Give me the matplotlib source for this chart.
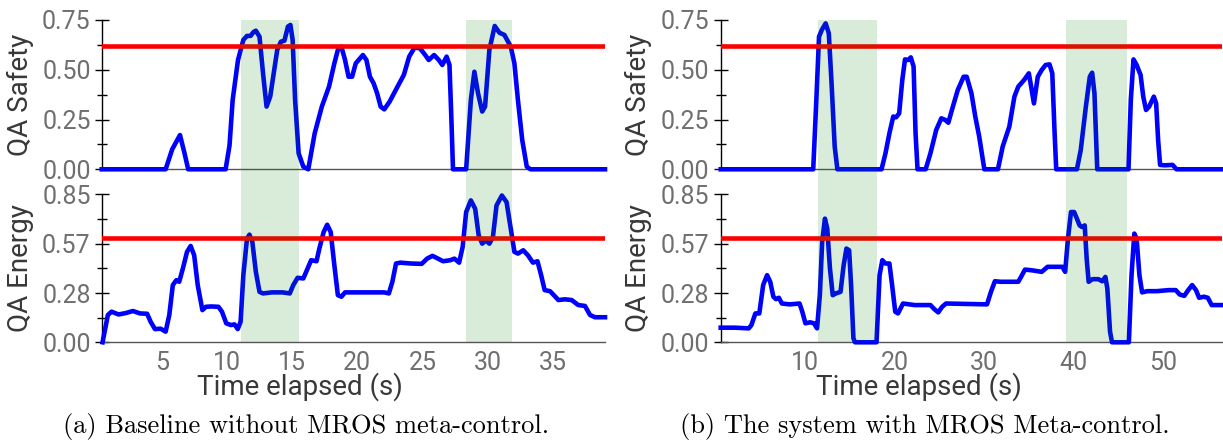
import matplotlib
matplotlib.use("Agg")
import matplotlib.pyplot as plt
from matplotlib.ticker import FixedLocator, FormatStrFormatter

plt.rcParams['font.family'] = ['Roboto', 'DejaVu Sans']

# (time s, value)
safety_a = [(0.4, 0), (5.3, 0), (5.8, 0.1), (6.4, 0.172), (6.75, 0.08), (7.03, 0), (9.9, 0), (10.2, 0.12),
            (10.44, 0.348), (10.85, 0.549), (11.26, 0.65), (11.54, 0.67), (11.81, 0.67), (12.05, 0.69),
            (12.22, 0.696), (12.5, 0.666), (12.77, 0.482), (13.04, 0.315), (13.32, 0.365), (13.59, 0.482),
            (13.86, 0.6), (14.14, 0.641), (14.41, 0.646), (14.68, 0.717), (14.87, 0.725), (15.04, 0.65),
            (15.23, 0.348), (15.5, 0.08), (15.86, 0.013), (16.24, 0), (16.73, 0.18), (17.28, 0.315),
            (17.83, 0.415), (18.24, 0.532), (18.51, 0.6), (18.78, 0.616), (19.06, 0.549), (19.33, 0.465),
            (19.6, 0.465), (19.88, 0.532), (20.43, 0.574), (20.7, 0.549), (20.97, 0.465), (21.25, 0.432),
            (21.52, 0.382), (21.79, 0.315), (22.07, 0.301), (22.48, 0.34), (23.02, 0.407), (23.57, 0.474),
            (23.98, 0.566), (24.39, 0.611), (24.8, 0.608), (25.21, 0.574), (25.48, 0.549), (25.89, 0.574),
            (26.25, 0.549), (26.52, 0.524), (26.85, 0.566), (27.07, 0.524), (27.21, 0.265), (27.34, 0),
            (28.35, 0), (28.71, 0.348), (28.98, 0.49), (29.26, 0.382), (29.58, 0.29), (29.8, 0.315),
            (30.13, 0.6), (30.54, 0.72), (30.9, 0.686), (31.28, 0.675), (31.77, 0.616), (32.05, 0.532),
            (32.32, 0.348), (32.65, 0.147), (33.0, 0.013), (33.28, 0), (39.0, 0)]

energy_a = [(0.46, 0), (0.87, 0.157), (1.15, 0.176), (1.69, 0.16), (2.24, 0.168), (2.79, 0.18), (3.33, 0.166),
            (3.88, 0.164), (4.15, 0.118), (4.48, 0.076), (4.92, 0.078), (5.3, 0.061), (5.58, 0.157),
            (5.85, 0.329), (6.12, 0.357), (6.34, 0.348), (6.62, 0.424), (6.94, 0.52), (7.22, 0.554),
            (7.49, 0.5), (7.76, 0.329), (8.12, 0.185), (8.39, 0.204), (8.8, 0.206), (9.35, 0.204),
            (9.62, 0.176), (9.95, 0.109), (10.31, 0.099), (10.58, 0.103), (10.83, 0.076), (11.05, 0.118),
            (11.26, 0.386), (11.54, 0.596), (11.73, 0.619), (11.95, 0.577), (12.22, 0.405), (12.5, 0.29),
            (12.77, 0.281), (13.45, 0.287), (14.27, 0.287), (14.82, 0.281), (15.09, 0.329), (15.42, 0.371),
            (15.86, 0.367), (16.13, 0.414), (16.46, 0.472), (16.87, 0.466), (17.09, 0.539), (17.42, 0.634),
            (17.69, 0.676), (17.96, 0.634), (18.24, 0.443), (18.51, 0.271), (18.78, 0.262), (19.06, 0.287),
            (22.07, 0.287), (22.42, 0.281), (22.69, 0.348), (22.97, 0.453), (23.3, 0.458), (24.12, 0.453),
            (24.94, 0.451), (25.35, 0.481), (25.76, 0.497), (26.09, 0.485), (26.58, 0.466), (27.13, 0.472),
            (27.45, 0.481), (27.81, 0.458), (28.08, 0.548), (28.35, 0.749), (28.71, 0.816), (29.04, 0.768),
            (29.31, 0.615), (29.58, 0.567), (29.86, 0.586), (30.13, 0.567), (30.4, 0.605), (30.68, 0.787),
            (31.09, 0.844), (31.45, 0.806), (31.77, 0.653), (32.05, 0.52), (32.32, 0.51), (32.73, 0.529),
            (33.09, 0.5), (33.47, 0.458), (33.82, 0.466), (34.1, 0.386), (34.37, 0.3), (34.78, 0.294),
            (35.19, 0.262), (35.42, 0.243), (35.93, 0.247), (36.44, 0.243), (36.95, 0.214), (37.46, 0.209),
            (37.85, 0.157), (38.23, 0.144), (39.0, 0.144)]

safety_b = [(0.6, 0), (10.93, 0), (11.28, 0.348), (11.58, 0.666), (11.89, 0.7), (12.32, 0.733), (12.67, 0.683),
            (12.98, 0.432), (13.33, 0.114), (13.63, 0), (18.56, 0), (19.0, 0.08), (19.44, 0.181),
            (19.87, 0.265), (20.18, 0.261), (20.53, 0.281), (20.88, 0.449), (21.18, 0.552), (21.53, 0.549),
            (21.83, 0.562), (22.14, 0.516), (22.36, 0.181), (22.58, 0), (23.49, 0), (24.02, 0.08),
            (24.67, 0.198), (25.24, 0.256), (25.67, 0.248), (26.02, 0.234), (26.42, 0.298), (27.07, 0.398),
            (27.73, 0.465), (28.07, 0.465), (28.6, 0.382), (29.03, 0.265), (29.47, 0.164), (30.04, 0),
            (31.56, 0), (32.09, 0.114), (32.83, 0.214), (33.4, 0.365), (33.83, 0.415), (34.49, 0.449),
            (35.01, 0.482), (35.27, 0.415), (35.58, 0.331), (36.01, 0.465), (36.45, 0.499), (36.89, 0.524),
            (37.32, 0.527), (37.63, 0.482), (37.89, 0.181), (38.07, 0), (40.38, 0), (40.81, 0.097),
            (41.38, 0.315), (41.82, 0.465), (42.08, 0.485), (42.34, 0.382), (42.65, 0), (46.14, 0),
            (46.4, 0.348), (46.7, 0.552), (47.05, 0.524), (47.49, 0.474), (47.79, 0.365), (48.1, 0.298),
            (48.45, 0.315), (48.97, 0.365), (49.23, 0.331), (49.45, 0.147), (49.67, 0.022), (50.2, 0.02),
            (51.07, 0.022), (51.5, 0), (56.6, 0)]

energy_b = [(0.6, 0.084), (2.2, 0.084), (3.73, 0.08), (4.03, 0.099), (4.47, 0.166), (4.91, 0.166), (5.34, 0.329),
            (5.78, 0.386), (6.13, 0.348), (6.48, 0.262), (6.78, 0.248), (7.09, 0.256), (7.44, 0.223),
            (8.31, 0.218), (9.4, 0.223), (9.71, 0.176), (10.06, 0.109), (10.58, 0.115), (11.02, 0.109),
            (11.36, 0.08), (11.67, 0.271), (11.93, 0.577), (12.24, 0.711), (12.5, 0.653), (12.8, 0.424),
            (13.11, 0.271), (13.46, 0.281), (13.98, 0.29), (14.33, 0.443), (14.64, 0.539), (14.94, 0.529),
            (15.16, 0.329), (15.42, 0.023), (15.6, 0), (18.0, 0), (18.34, 0.386), (18.65, 0.472), (19.0, 0.453),
            (19.44, 0.453), (19.74, 0.329), (20.09, 0.176), (20.4, 0.166), (20.96, 0.223), (22.27, 0.214),
            (24.02, 0.214), (24.45, 0.191), (24.89, 0.172), (25.33, 0.204), (25.76, 0.223), (30.34, 0.218),
            (30.78, 0.29), (31.22, 0.351), (31.87, 0.348), (33.83, 0.348), (34.14, 0.376), (34.58, 0.418),
            (35.36, 0.414), (36.45, 0.405), (37.1, 0.434), (38.76, 0.434), (39.07, 0.405), (39.38, 0.596),
            (39.72, 0.749), (40.07, 0.749), (40.38, 0.711), (40.68, 0.672), (40.95, 0.663), (41.25, 0.672),
            (41.47, 0.481), (41.69, 0.348), (42.12, 0.363), (42.78, 0.363), (43.21, 0.351), (43.56, 0.376),
            (43.78, 0.309), (44.08, 0.061), (44.3, 0), (46.18, 0), (46.48, 0.386), (46.79, 0.625),
            (47.05, 0.596), (47.36, 0.386), (47.66, 0.287), (48.23, 0.294), (49.32, 0.294), (50.63, 0.3),
            (51.42, 0.3), (51.85, 0.275), (52.37, 0.267), (52.81, 0.3), (53.25, 0.329), (53.68, 0.3),
            (54.03, 0.256), (54.56, 0.262), (55.0, 0.256), (55.43, 0.214), (56.6, 0.214)]

spans_a = [(11.1, 15.55), (28.3, 31.9)]
spans_b = [(11.5, 18.0), (39.2, 46.0)]
safety_limit = 0.62
energy_limit = 0.6
xlim_a = (0.4, 39.0)
xlim_b = (0.6, 56.6)
xticks_a = [5, 10, 15, 20, 25, 30, 35]
xticks_b = [10, 20, 30, 40, 50]
safety_ticks = [0.0, 0.25, 0.5, 0.75]
energy_ticks = [0.0, 0.85 / 3, 0.85 * 2 / 3, 0.85]
captions = ["(a) Baseline without MROS meta-control.", "(b) The system with MROS Meta-control."]

TICK_GREY = "#6f6f6f"
LABEL_GREY = "#383838"

fig = plt.figure(figsize=(12.23, 4.42), dpi=100)


def style_axis(ax, yticks, xlim, xticks, show_x):
    ax.set_xlim(*xlim)
    ax.set_ylim(yticks[0], yticks[-1])
    for side in ["top", "right"]:
        ax.spines[side].set_visible(False)
    ax.spines["left"].set_color("black")
    ax.spines["left"].set_linewidth(1.0)
    ax.spines["bottom"].set_color("#555555")
    ax.spines["bottom"].set_linewidth(1.0)
    ax.yaxis.set_major_locator(FixedLocator(yticks))
    mids = [(a + b) / 2 for a, b in zip(yticks[:-1], yticks[1:])]
    ax.yaxis.set_minor_locator(FixedLocator(mids))
    ax.yaxis.set_major_formatter(FormatStrFormatter("%.2f"))
    ax.tick_params(axis="y", which="major", direction="inout", length=10, width=1,
                   labelsize=18, labelcolor=TICK_GREY, pad=3)
    ax.tick_params(axis="y", which="minor", direction="inout", length=7, width=1)
    ax.set_xticks(xticks)
    ax.tick_params(axis="x", length=0, labelsize=18, labelcolor=TICK_GREY, pad=6)
    if not show_x:
        ax.tick_params(axis="x", labelbottom=False)


def panel(x0, width, safety, energy, spans, xlim, xticks, label_x, caption_x, caption):
    ax_top = fig.add_axes([x0, 0.617, width, 0.3378])
    ax_bot = fig.add_axes([x0, 0.2256, width, 0.3344])

    t, v = zip(*safety)
    ax_top.plot(t, v, color="#0000ff", lw=3.3, clip_on=False, zorder=3)
    ax_top.axhline(safety_limit, color="red", lw=3.3, zorder=4)
    style_axis(ax_top, safety_ticks, xlim, xticks, False)
    ax_top.set_ylabel("QA Safety", fontsize=20, color=LABEL_GREY)
    ax_top.yaxis.set_label_coords(label_x, 0.617 + 0.3378 / 2, transform=fig.transFigure)

    t, v = zip(*energy)
    ax_bot.plot(t, v, color="#0000ff", lw=3.3, clip_on=False, zorder=3)
    ax_bot.axhline(energy_limit, color="red", lw=3.3, zorder=4)
    style_axis(ax_bot, energy_ticks, xlim, xticks, True)
    ax_bot.set_ylabel("QA Energy", fontsize=20, color=LABEL_GREY)
    ax_bot.yaxis.set_label_coords(label_x, 0.2256 + 0.3344 / 2, transform=fig.transFigure)
    ax_bot.set_xlabel("Time elapsed (s)", fontsize=20, color=LABEL_GREY)
    ax_bot.xaxis.set_label_coords(caption_x - 0.005, 0.158, transform=fig.transFigure)

    # shaded windows run through both panels, drawn over the lines
    for a, b in spans:
        ax_bot.axvspan(a, b, ymin=0, ymax=2.181, color="green", alpha=0.15, lw=0,
                       clip_on=False, zorder=5)

    fig.text(caption_x, 0.036, caption, family="cmr10", fontsize=19,
             ha="center", va="center", color="black")


panel(0.0832, 0.4115, safety_a, energy_a, spans_a, xlim_a, xticks_a, 0.0278, 0.250, captions[0])
panel(0.5893, 0.4100, safety_b, energy_b, spans_b, xlim_b, xticks_b, 0.533, 0.756, captions[1])

fig.savefig("out.png", dpi=100)
